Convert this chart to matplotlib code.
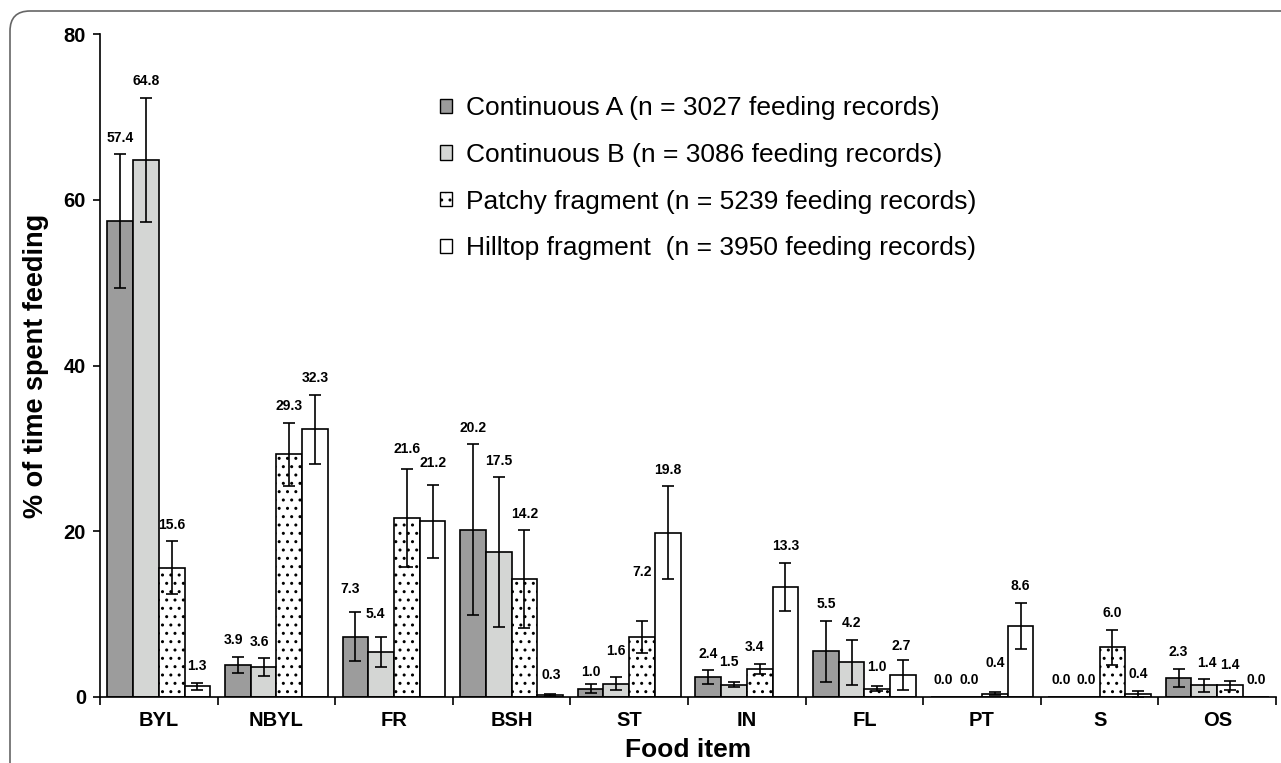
import numpy as np
import matplotlib
matplotlib.use('Agg')
import matplotlib.pyplot as plt
from matplotlib.patches import FancyBboxPatch, Patch
from matplotlib.transforms import IdentityTransform

plt.rcParams['font.family'] = ['Liberation Sans', 'DejaVu Sans']
plt.rcParams['hatch.linewidth'] = 1.0

# datos
food_items = ['BYL', 'NBYL', 'FR', 'BSH', 'ST', 'IN', 'FL', 'PT', 'S', 'OS']
series_names = ['Continuous A (n = 3027 feeding records)',
                'Continuous B (n = 3086 feeding records)',
                'Patchy fragment (n = 5239 feeding records)',
                'Hilltop fragment  (n = 3950 feeding records)']
cont_a = [57.4, 3.9, 7.3, 20.2, 1.0, 2.4, 5.5, 0.0, 0.0, 2.3]
cont_b = [64.8, 3.6, 5.4, 17.5, 1.6, 1.5, 4.2, 0.0, 0.0, 1.4]
patchy = [15.6, 29.3, 21.6, 14.2, 7.2, 3.4, 1.0, 0.4, 6.0, 1.4]
hilltop = [1.3, 32.3, 21.2, 0.3, 19.8, 13.3, 2.7, 8.6, 0.4, 0.0]

err_a = [8.1, 0.95, 3.0, 10.3, 0.55, 0.8, 3.7, 0.0, 0.0, 1.1]
err_b = [7.5, 1.05, 1.8, 9.0, 0.78, 0.35, 2.7, 0.0, 0.0, 0.75]
err_patchy = [3.2, 3.8, 5.9, 5.9, 1.95, 0.6, 0.3, 0.2, 2.1, 0.5]
err_hilltop = [0.4, 4.2, 4.4, 0.12, 5.6, 2.9, 1.8, 2.75, 0.35, 0.0]

values = [cont_a, cont_b, patchy, hilltop]
errors = [err_a, err_b, err_patchy, err_hilltop]
colors = ['#9c9c9c', '#d4d6d4', 'white', 'white']
hatches = [None, None, '..', None]

# ajustes de posicion de etiquetas (dx en puntos, dy extra en unidades)
label_adjust = {
    (1, 0): (-3, 0), (1, 1): (-3, 0),
    (2, 0): (-4, 0.7), (2, 1): (-4, 0.8), (2, 2): (0, 0.4), (2, 3): (0, 0.65),
    (3, 3): (1, 0.25),
    (4, 0): (0, -0.5), (4, 1): (0, 1.2), (4, 2): (0, 3.9),
    (5, 1): (-4, 0.35), (5, 2): (-4, 0),
    (6, 2): (0, 0.35), (6, 3): (-1, -0.3),
    (7, 2): (0, 1.5),
    (9, 1): (2, 0),
}

fig = plt.figure(figsize=(12.81, 7.63), dpi=100)
ax = fig.add_axes([100 / 1281, 66 / 763, 1176 / 1281, 663 / 763])

x = np.arange(len(food_items))
w = 0.2186

for k in range(4):
    xs = x + (k - 1.5) * w
    ax.bar(xs, values[k], width=w, color=colors[k], edgecolor='black',
           linewidth=1.2, hatch=hatches[k], label=series_names[k], zorder=2)
    vals = np.array(values[k], dtype=float)
    errs = np.array(errors[k], dtype=float)
    mask = errs > 0
    ax.errorbar(xs[mask], vals[mask], yerr=errs[mask], fmt='none',
                ecolor='black', elinewidth=1.2, capsize=4, capthick=1.2,
                zorder=3)
    for i in range(len(food_items)):
        dx, dy = label_adjust.get((i, k), (0, 0))
        ax.annotate(f'{vals[i]:.1f}', xy=(xs[i], vals[i] + errs[i] + 2.0 + dy),
                    xytext=(dx, 0), textcoords='offset points',
                    ha='center', va='center', fontsize=10, fontweight='bold',
                    zorder=4)

ax.set_xlim(-0.5, len(food_items) - 0.5)
ax.set_ylim(0, 80)
ax.set_yticks([0, 20, 40, 60, 80])
ax.set_xticks(x)
ax.set_xticklabels(food_items, fontsize=14.5, fontweight='bold')
ax.set_xticks(np.arange(len(food_items) + 1) - 0.5, minor=True)
ax.tick_params(axis='x', which='major', length=0, pad=10)
ax.tick_params(axis='x', which='minor', length=6, width=1.2, direction='out')
ax.tick_params(axis='y', length=5, width=1.2, direction='out', pad=5,
               labelsize=14.5)
for lab in ax.get_yticklabels():
    lab.set_fontweight('bold')

for s in ['top', 'right']:
    ax.spines[s].set_visible(False)
for s in ['left', 'bottom']:
    ax.spines[s].set_linewidth(1.2)

ax.set_xlabel('Food item', fontsize=19, fontweight='bold')
ax.xaxis.set_label_coords(0.5, -0.062)
ax.set_ylabel('% of time spent feeding', fontsize=19.5, fontweight='bold')
ax.yaxis.set_label_coords(-0.043, 0.5)

handles = [Patch(facecolor=colors[k], edgecolor='black', linewidth=1.0,
                 hatch=hatches[k]) for k in range(4)]
ax.legend(handles, series_names, loc='upper left',
          bbox_to_anchor=(440 / 1281, 1 - 96 / 763),
          bbox_transform=fig.transFigure, frameon=False, fontsize=19,
          handlelength=0.45, handleheight=0.45, handletextpad=0.55,
          labelspacing=0.865, borderpad=0, borderaxespad=0)

# marco redondeado de la figura
frame = FancyBboxPatch((10, -40), 1400, 792,
                       boxstyle='round,pad=0,rounding_size=20',
                       transform=IdentityTransform(), facecolor='none',
                       edgecolor='#666666', linewidth=1.2)
fig.add_artist(frame)

fig.savefig('out.png', dpi=100)
